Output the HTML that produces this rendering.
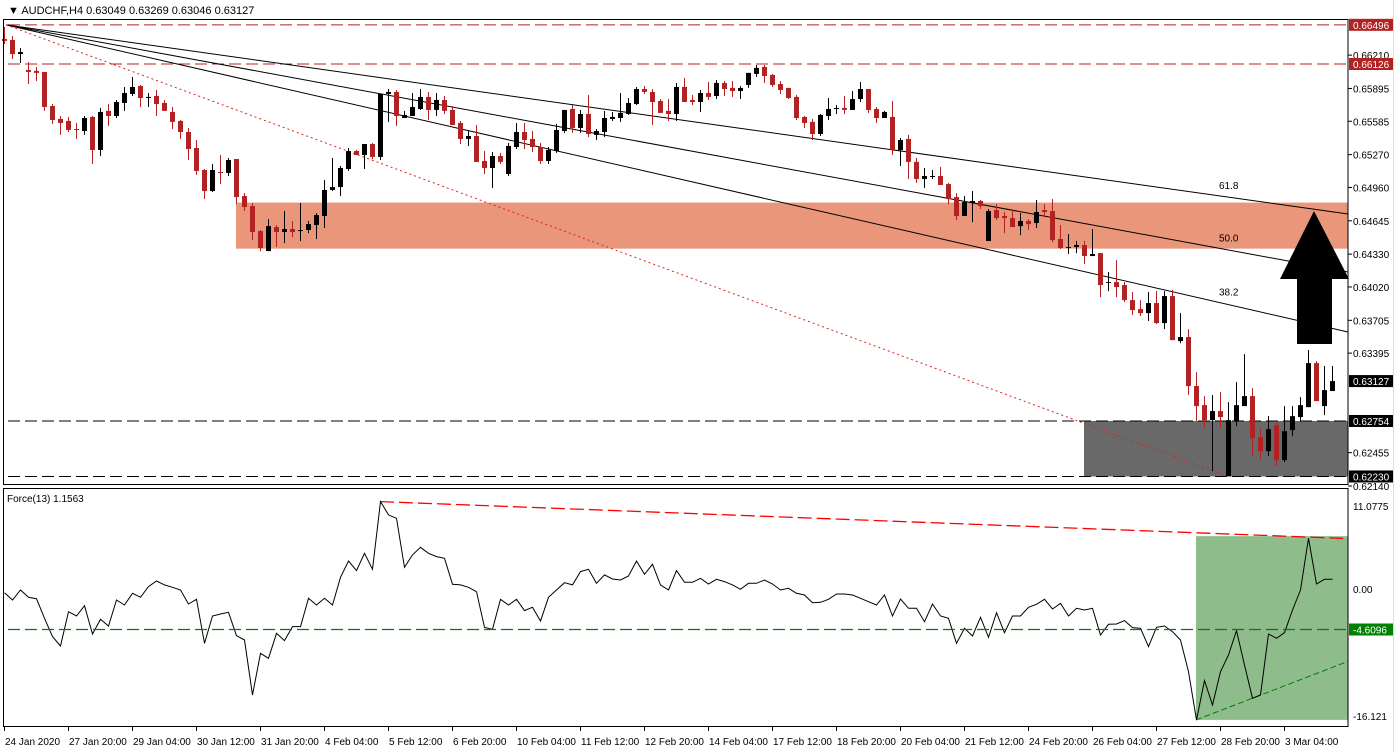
<!DOCTYPE html>
<html><head><meta charset="utf-8"><title>AUDCHF H4</title>
<style>
html,body{margin:0;padding:0;background:#fff;}
svg{display:block;font-family:"Liberation Sans",sans-serif;}
</style></head>
<body>
<svg id="chart" width="1397" height="752" viewBox="0 0 1397 752" xmlns="http://www.w3.org/2000/svg">
<rect x="0" y="0" width="1397" height="752" fill="#fff"/>
<g id="bg"></g>
<g id="marks"></g>
<g id="over"></g>
<g id="axes"></g>
</svg>
<script>
const opens=[.66362,.66353,.66220,.66070,.66061,.66051,.65729,.65607,.65588,.65512,.65493,.65626,.65314,.65683,.65635,.65758,.65843,.65918,.65805,.65824,.65758,.65673,.65588,.65484,.65333,.65125,.64926,.65106,.65097,.65229,.64879,.64784,.64548,.64359,.64586,.64539,.64567,.64548,.64558,.64605,.64690,.64936,.64964,.65134,.65304,.65266,.65370,.65248,.65843,.65862,.65616,.65635,.65701,.65815,.65692,.65786,.65692,.65569,.65418,.65446,.65210,.65144,.65257,.65087,.65342,.65484,.65418,.65342,.65210,.65304,.65493,.65701,.65522,.65654,.65456,.65484,.65607,.65616,.65654,.65748,.65890,.65862,.65777,.65683,.65654,.65909,.65786,.65767,.65852,.65824,.65947,.65900,.65871,.65928,.66032,.66098,.66023,.65937,.65900,.65815,.65626,.65579,.65465,.65635,.65701,.65711,.65692,.65795,.65890,.65701,.65616,.65626,.65314,.65418,.65201,.65040,.65059,.65068,.64992,.64869,.64690,.64813,.64832,.64454,.64747,.64690,.64671,.64595,.64643,.64624,.64747,.64737,.64473,.64388,.64397,.64416,.64312,.64340,.64057,.64066,.64038,.63896,.63811,.63773,.63868,.63679,.63934,.63509,.63547,.63084,.62904,.62762,.62848,.62233,.62753,.62895,.62989,.62602,.62469,.62715,.62384,.62668,.62791,.62885,.63301,.62895,.63037];
const highs=[.66475,.66391,.66277,.66145,.66098,.66051,.65748,.65635,.65626,.65569,.65635,.65635,.65711,.65748,.65786,.65909,.66004,.65928,.65852,.65881,.65786,.65720,.65597,.65522,.65408,.65134,.65181,.65267,.65238,.65229,.64907,.64813,.64558,.64661,.64605,.64737,.64643,.64813,.64643,.64718,.65030,.65238,.65163,.65333,.65314,.65370,.65380,.65843,.65890,.65881,.65683,.65852,.65890,.65862,.65852,.65824,.65729,.65588,.65493,.65550,.65304,.65295,.65286,.65380,.65569,.65569,.65493,.65380,.65342,.65560,.65692,.65739,.65692,.65833,.65512,.65683,.65673,.65852,.65805,.65909,.65918,.65890,.65795,.65795,.65947,.65994,.65833,.65881,.65956,.65975,.65966,.65966,.65918,.66042,.66117,.66117,.66032,.65966,.65900,.65833,.65635,.65607,.65654,.65805,.65739,.65824,.65871,.65956,.65890,.65720,.65683,.65777,.65427,.65456,.65238,.65144,.65125,.65153,.65002,.64907,.64879,.64926,.64841,.64756,.64803,.64728,.64747,.64718,.64661,.64841,.64803,.64850,.64605,.64520,.64454,.64454,.64567,.64340,.64161,.64274,.64066,.63972,.63896,.63972,.63981,.63981,.63991,.63773,.63622,.63216,.62989,.62999,.63027,.62932,.63121,.63386,.63065,.62686,.62800,.62753,.62895,.62895,.62980,.63424,.63320,.63273,.63273];
const lows=[.66315,.66173,.66135,.65937,.65966,.65683,.65560,.65456,.65484,.65418,.65456,.65182,.65257,.65541,.65616,.65683,.65824,.65720,.65720,.65635,.65683,.65512,.65418,.65219,.65078,.64850,.64917,.64992,.65068,.64803,.64737,.64463,.64359,.64359,.64397,.64435,.64492,.64454,.64529,.64473,.64577,.64926,.64879,.65116,.65266,.65134,.65229,.65219,.65579,.65541,.65616,.65635,.65692,.65597,.65635,.65654,.65550,.65370,.65352,.65201,.65087,.64955,.65182,.65068,.65323,.65323,.65295,.65182,.65182,.65286,.65475,.65475,.65475,.65437,.65408,.65437,.65588,.65579,.65645,.65739,.65843,.65550,.65664,.65588,.65588,.65767,.65739,.65673,.65786,.65795,.65824,.65815,.65795,.65900,.66004,.65947,.65909,.65843,.65795,.65597,.65522,.65408,.65446,.65597,.65654,.65654,.65692,.65767,.65664,.65569,.65616,.65266,.65163,.65040,.65002,.64955,.65040,.64983,.64803,.64652,.64690,.64633,.64756,.64454,.64652,.64529,.64586,.64510,.64558,.64577,.64680,.64444,.64378,.64331,.64340,.64237,.64312,.63924,.63981,.63924,.63877,.63754,.63745,.63698,.63670,.63622,.63518,.63490,.62999,.62753,.62696,.62280,.62696,.62233,.62705,.62895,.62422,.62393,.62422,.62327,.62365,.62611,.62753,.62885,.62942,.62810,.63037];
const closes=[.66344,.66220,.66239,.66051,.66042,.65720,.65597,.65569,.65503,.65503,.65616,.65314,.65673,.65635,.65767,.65852,.65909,.65805,.65815,.65748,.65683,.65579,.65484,.65323,.65116,.64926,.65125,.65097,.65219,.64869,.64775,.64539,.64388,.64595,.64539,.64567,.64539,.64558,.64614,.64699,.64936,.64964,.65144,.65304,.65266,.65370,.65248,.65843,.65862,.65635,.65645,.65720,.65815,.65692,.65786,.65683,.65550,.65418,.65446,.65201,.65144,.65257,.65201,.65352,.65484,.65408,.65342,.65210,.65314,.65503,.65692,.65522,.65654,.65465,.65493,.65616,.65626,.65664,.65758,.65890,.65862,.65767,.65664,.65654,.65909,.65767,.65767,.65852,.65815,.65947,.65890,.65871,.65900,.66042,.66089,.66013,.65928,.65881,.65805,.65616,.65569,.65465,.65645,.65701,.65711,.65692,.65795,.65890,.65692,.65616,.65673,.65314,.65408,.65201,.65040,.65068,.65068,.64983,.64850,.64690,.64822,.64832,.64784,.64737,.64671,.64671,.64586,.64643,.64614,.64728,.64728,.64463,.64388,.64397,.64416,.64312,.64331,.64038,.64066,.64019,.63896,.63802,.63773,.63868,.63679,.63934,.63518,.63547,.63084,.62895,.62762,.62848,.62791,.62762,.62904,.62989,.62592,.62469,.62677,.62384,.62658,.62800,.62904,.63301,.62942,.63046,.63131];
const force=[-0.45,-1.35,-0.12,-1.02,-1.19,-3.61,-5.86,-7.01,-2.79,-3.32,-2.05,-5.53,-3.73,-4.55,-1.35,-1.97,-0.53,-1.02,0.29,0.99,0.50,0.21,-0.12,-1.84,-1.27,-6.68,-3.32,-3.07,-2.87,-5.74,-6.27,-13.04,-7.91,-8.53,-5.45,-6.35,-4.63,-4.63,-1.15,-1.97,-1.15,-1.97,1.44,3.45,2.26,4.39,2.42,10.75,9.11,8.70,2.67,4.19,5.13,4.39,3.98,3.77,0.58,0.50,0.21,-0.33,-4.71,-4.96,-1.27,-1.97,-1.27,-2.66,-2.25,-3.93,-1.02,-0.12,0.78,0.50,2.14,2.42,0.70,1.73,1.23,1.11,1.60,3.45,1.81,3.04,0.50,-0.12,2.26,0.82,0.82,1.32,0.62,1.19,0.91,0.50,-0.04,0.70,0.70,1.11,0.62,-0.12,0.09,-0.53,-0.74,-1.68,-1.64,-1.27,-0.61,-0.61,-0.74,-1.15,-1.56,-1.97,-0.74,-3.32,-1.23,-2.38,-2.38,-4.02,-1.84,-3.32,-3.61,-6.68,-4.84,-5.78,-3.48,-5.94,-2.91,-5.37,-3.32,-3.32,-2.25,-1.88,-1.27,-2.46,-1.76,-3.32,-2.38,-2.58,-2.38,-5.66,-4.34,-4.30,-3.89,-4.75,-4.84,-7.09,-4.71,-4.55,-5.25,-6.27,-10.17,-16.11,-11.27,-14.27,-10.17,-8.12,-5.12,-9.35,-13.45,-13.04,-5.53,-6.07,-5.37,-2.58,-0.12,6.24,0.62,1.19,1.19];
const priceTicks=[0.66210,0.65895,0.65585,0.65270,0.64960,0.64645,0.64330,0.64020,0.63705,0.63395,0.62455,0.62140];
const forceTicks=[11.0775,0.00,-16.121];
const timeLabels=["24 Jan 2020","27 Jan 20:00","29 Jan 04:00","30 Jan 12:00","31 Jan 20:00","4 Feb 04:00","5 Feb 12:00","6 Feb 20:00","10 Feb 04:00","11 Feb 12:00","12 Feb 20:00","14 Feb 04:00","17 Feb 12:00","18 Feb 20:00","20 Feb 04:00","21 Feb 12:00","24 Feb 20:00","26 Feb 04:00","27 Feb 12:00","28 Feb 20:00","3 Mar 04:00"];
const resistLevels=[0.66496,0.66126];
const supportLevels=[0.62754,0.62230];
const fibLevels=["61.8","50.0","38.2"];
const fibEndPrices=[0.64709,0.64161,0.63595];

const NS="http://www.w3.org/2000/svg";
const L=4,R=1348;
function X(i){return 4+8*i;}
function Y(p){return 64+(0.66126-p)*10587;}
function FY(v){return 589-v*8.13;}
function mk(tag,attrs,parent){const e=document.createElementNS(NS,tag);for(const k in attrs)e.setAttribute(k,attrs[k]);parent.appendChild(e);return e;}
const bg=document.getElementById('bg'),marks=document.getElementById('marks'),over=document.getElementById('over'),axes=document.getElementById('axes');

let z=mk('rect',{x:236,y:Y(0.64817),width:R-236,height:Y(0.64382)-Y(0.64817),fill:'#E9967A'},bg);


z=mk('rect',{x:1084,y:Y(supportLevels[0]),width:R-1084,height:Y(supportLevels[1])-Y(supportLevels[0]),fill:'#696969'},bg);


z=mk('rect',{x:1196,y:FY(6.5),width:R-1196,height:FY(-16.1)-FY(6.5),fill:'#8FBC8B'},bg);



resistLevels.forEach(p=>{const l=mk('line',{x1:L+4,x2:R,y1:Y(p),y2:Y(p),stroke:'#B22222','stroke-dasharray':'12,5','stroke-width':1},bg);

});
supportLevels.forEach(p=>{const l=mk('line',{x1:L+4,x2:R,y1:Y(p),y2:Y(p),stroke:'#000','stroke-dasharray':'12,5','stroke-width':1},bg);

});

const ox=X(0)+2,oy=Y(0.66496);
fibEndPrices.forEach((p,k)=>{const ey=Y(p);const l=mk('line',{x1:ox,y1:oy,x2:R,y2:ey,stroke:'#000','stroke-width':1},bg);


const ly=oy+(ey-oy)*(1219-ox)/(R-ox);
const t=mk('text',{x:1219,y:ly-7,'font-size':10,fill:'#000'},over);t.textContent=fibLevels[k];

});
let dl=mk('line',{x1:ox,y1:oy,x2:1228,y2:Y(0.62230),stroke:'#E02020','stroke-width':1,'stroke-dasharray':'2,3'},bg);



for(let i=0;i<opens.length;i++){
  const o=opens[i],c=closes[i],h=highs[i],lo=lows[i];
  const col=c>=o?'#000':'#B22222';
  const g=mk('g',{},marks);
  
  
  mk('line',{x1:X(i)+0.5,x2:X(i)+0.5,y1:Y(h),y2:Y(lo),stroke:col,'stroke-width':1},g);
  const t=Math.min(Y(o),Y(c)),b=Math.max(Y(o),Y(c));
  mk('rect',{x:X(i)-2,y:t,width:5,height:Math.max(1,b-t),fill:col},g);
}

let ar=mk('path',{d:'M1314,211 L1349,279 L1332,279 L1332,344 L1297,344 L1297,279 L1280,279 Z',fill:'#000'},over);



const gy=Math.round(FY(-4.6096)+3)+0.5;
let fl=mk('line',{x1:L+4,x2:R,y1:gy,y2:gy,stroke:'#008000','stroke-dasharray':'12,5','stroke-width':1.2},over);


fl=mk('line',{x1:X(47),y1:FY(10.75),x2:R,y2:FY(6.2),stroke:'#FF0000','stroke-dasharray':'14,5','stroke-width':1.3},bg);


fl=mk('line',{x1:1196,y1:FY(-16.11),x2:R,y2:FY(-8.9),stroke:'#008000','stroke-dasharray':'6,3','stroke-width':1},bg);


let pts=force.map((v,i)=>X(i)+0.5+','+FY(v).toFixed(1)).join(' ');
let fp=mk('polyline',{points:pts,fill:'none',stroke:'#000','stroke-width':1},marks);



mk('rect',{x:3.5,y:19.5,width:R-3.5,height:465,fill:'none',stroke:'#000','stroke-width':1},axes);
mk('rect',{x:3.5,y:488.5,width:R-3.5,height:238,fill:'none',stroke:'#000','stroke-width':1},axes);
mk('line',{x1:1393.5,x2:1393.5,y1:0,y2:752,stroke:'#ddd'},axes);

priceTicks.forEach(p=>{const y=Y(p);mk('line',{x1:R,x2:R+4,y1:y,y2:y,stroke:'#000'},axes);
const t=mk('text',{x:R+5,y:y+4,'font-size':10,fill:'#000'},axes);t.textContent=p.toFixed(5);

});
function tag(p,txt,bgc,fy){const y=fy!==undefined?fy:Y(p);mk('rect',{x:R+1,y:y-6,width:44,height:12,fill:bgc},axes);
const t=mk('text',{x:R+5,y:y+4,'font-size':10,fill:'#fff'},axes);t.textContent=txt;

}
tag(resistLevels[0],'0.66496','#B22222');
tag(resistLevels[1],'0.66126','#B22222');
tag(closes[closes.length-1],'0.63127','#000');
tag(supportLevels[0],'0.62754','#000');
tag(supportLevels[1],'0.62230','#000');
forceTicks.forEach(v=>{const y=v>11?FY(v)+7:v<-16?FY(v)-4:FY(v);
const t=mk('text',{x:R+5,y:y+4,'font-size':10,fill:'#000'},axes);t.textContent=v===0?'0.00':String(v);

});
tag(0,'-4.6096','#008000',gy);

timeLabels.forEach((s,k)=>{const x=4+64*k;mk('line',{x1:x+0.5,x2:x+0.5,y1:727,y2:731,stroke:'#000'},axes);
const t=mk('text',{x:x+1,y:745,'font-size':10,fill:'#000'},axes);t.textContent=s;

});

let tt=mk('text',{x:8,y:14,'font-size':11,fill:'#000'},axes);tt.textContent='\u25BC AUDCHF,H4  0.63049 0.63269 0.63046 0.63127';


tt=mk('text',{x:7,y:502,'font-size':10,fill:'#000'},axes);tt.textContent='Force(13) 1.1563';


</script>
</body></html>
